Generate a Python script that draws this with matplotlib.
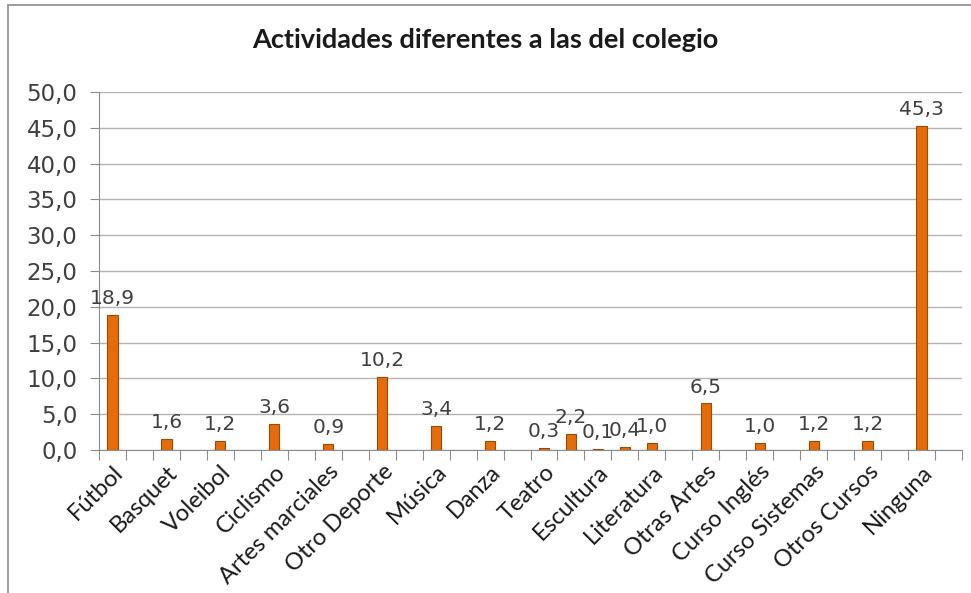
import numpy as np
import matplotlib.pyplot as plt
from matplotlib.patches import Rectangle

# Excel-style chart: 32 category slots, only every other label is shown
categories = ['Fútbol', '', 'Basquet', '', 'Voleibol', '', 'Ciclismo', '',
              'Artes marciales', '', 'Otro Deporte', '', 'Música', '', 'Danza', '',
              'Teatro', '', 'Escultura', '', 'Literatura', '', 'Otras Artes', '',
              'Curso Inglés', '', 'Curso Sistemas', '', 'Otros Cursos', '', 'Ninguna', '']
values = [18.9, None, 1.6, None, 1.2, None, 3.6, None,
          0.9, None, 10.2, None, 3.4, None, 1.2, None,
          0.3, 2.2, 0.1, 0.4, 1.0, None, 6.5, None,
          1.0, None, 1.2, None, 1.2, None, 45.3, None]
y_ticks = [0, 5, 10, 15, 20, 25, 30, 35, 40, 45, 50]
title = 'Actividades diferentes a las del colegio'

fig = plt.figure(figsize=(9.71, 5.93), dpi=100)
ax = fig.add_axes([99 / 971, 1 - 450 / 593, 863 / 971, 358 / 593])

# outer chart frame
fig.patches.append(Rectangle((8 / 971, -0.1), 1.2, 1 - 5 / 593 + 0.1,
                             transform=fig.transFigure, fill=False,
                             edgecolor='#8c8c8c', linewidth=1.2))

n = len(categories)
xs = [i + 0.5 for i, v in enumerate(values) if v is not None]
hs = [v for v in values if v is not None]
ax.bar(xs, hs, width=0.38, color='#E46C0A', edgecolor='#9C4A06', linewidth=0.8, zorder=3)

for x, h in zip(xs, hs):
    ax.annotate(f'{h:.1f}'.replace('.', ','), (x, h), xytext=(0, 5),
                textcoords='offset points', ha='center', va='bottom',
                fontsize=14.5, color='#404040', family='DejaVu Sans', zorder=4)

ax.set_xlim(0, n)
ax.set_ylim(0, 50)
ax.set_yticks(y_ticks)
ax.set_yticklabels([f'{t:.1f}'.replace('.', ',') for t in y_ticks],
                   fontsize=16.5, color='#404040', family='DejaVu Sans')
ax.yaxis.grid(True, color='#b3b3b3', linewidth=1)
ax.set_axisbelow(True)

# boundaries get tick marks, every other centre gets a label
ax.set_xticks(np.arange(n + 1))
ax.set_xticklabels([])
ax.set_xticks([i + 0.5 for i in range(0, n, 2)], minor=True)
ax.set_xticklabels([categories[i] for i in range(0, n, 2)], minor=True,
                   rotation=45, ha='right', rotation_mode='anchor',
                   fontsize=17, color='#1a1a1a', family='Lato')
ax.tick_params(axis='x', which='major', length=7, color='#8c8c8c', direction='out')
ax.tick_params(axis='x', which='minor', length=0, pad=8)
ax.tick_params(axis='y', length=6.5, color='#8c8c8c', pad=9)

for s in ['top', 'right']:
    ax.spines[s].set_visible(False)
for s in ['left', 'bottom']:
    ax.spines[s].set_color('#8c8c8c')

fig.text(0.5, 1 - 40 / 593, title, ha='center', va='center',
         fontsize=19.5, fontweight='bold', family='Lato', color='#1a1a1a')

fig.savefig('out.png', dpi=100)
